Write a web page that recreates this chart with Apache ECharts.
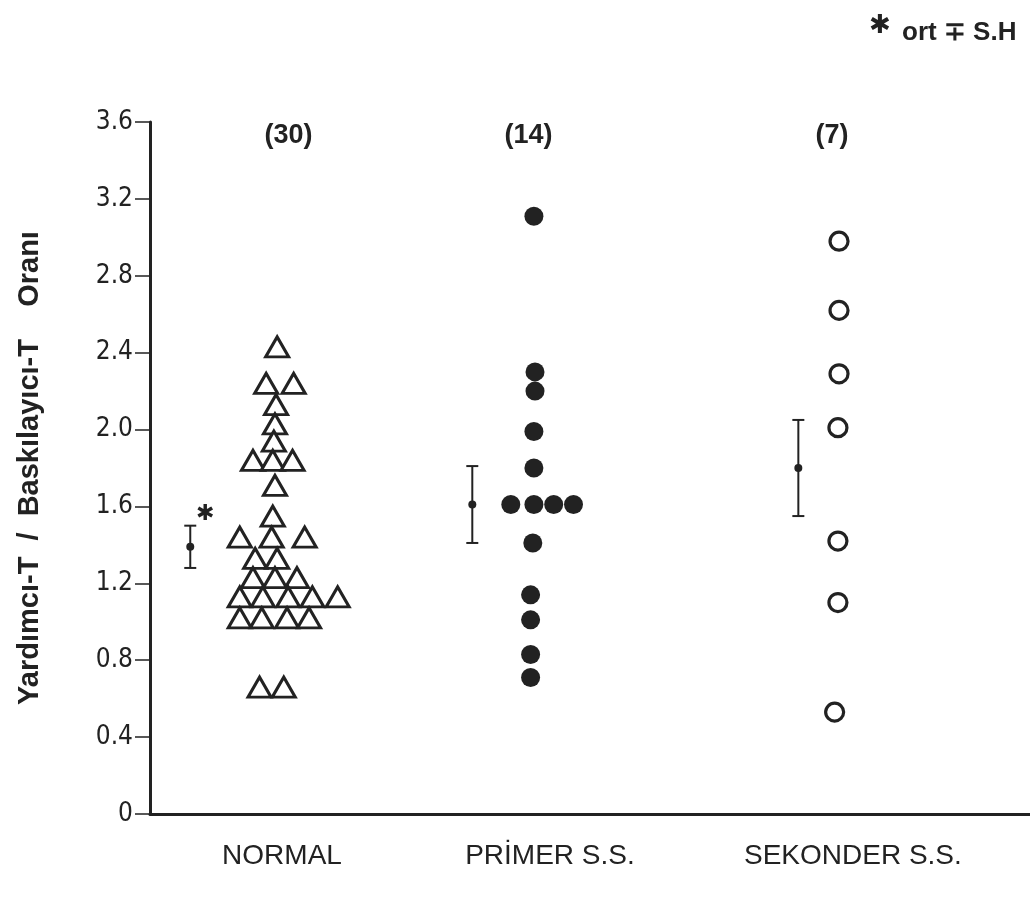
<!DOCTYPE html>
<html><head><meta charset="utf-8">
<script src="https://cdn.jsdelivr.net/npm/echarts@6/dist/echarts.min.js"></script>
<style>html,body{margin:0;padding:0;background:#fff}#c{width:1030px;height:902px}</style>
</head><body><div id="c"></div>
<script>
// ---- data ----
const groupNames = ['NORMAL', 'PRİMER S.S.', 'SEKONDER S.S.'];
const groupCounts = ['(30)', '(14)', '(7)'];
const yAxisTitle = 'Yardımcı-T  /  Baskılayıcı-T    Oranı';
const legendNote = 'ort ∓ S.H';

// values and column offsets (in marker slots) for each dot
const normalValues = [2.43, 2.24, 2.24, 2.13, 2.03, 1.94, 1.84, 1.84, 1.84, 1.71, 1.55,
  1.44, 1.44, 1.44, 1.33, 1.33, 1.23, 1.23, 1.23,
  1.13, 1.13, 1.13, 1.13, 1.13, 1.02, 1.02, 1.02, 1.02, 0.66, 0.66];
const normalCols = [0.1, -0.4, 0.85, 0.05, 0, -0.05, -1, -0.1, 0.8, 0, -0.1,
  -1.6, -0.15, 1.35, -0.9, 0.1, -1, 0, 1,
  -1.6, -0.55, 0.6, 1.7, 2.85, -1.6, -0.6, 0.55, 1.55, -0.7, 0.4];
const primerValues = [3.11, 2.30, 2.20, 1.99, 1.80, 1.61, 1.61, 1.61, 1.61, 1.41, 1.14, 1.01, 0.83, 0.71];
const primerCols = [0, 0.05, 0.05, 0, 0, -1.05, 0, 0.9, 1.8, -0.05, -0.15, -0.15, -0.15, -0.15];
const sekonderValues = [2.98, 2.62, 2.29, 2.01, 1.42, 1.10, 0.53];
const sekonderCols = [0.05, 0.05, 0.05, 0, 0, 0, -0.15];

// mean ± SD per group
const errMean = [1.39, 1.61, 1.80];
const errLow = [1.28, 1.41, 1.55];
const errHigh = [1.50, 1.81, 2.05];
const errNote = ['✱', '', ''];

// ---- layout (x axis in marker-slot units) ----
const groupCenters = [5.68, 17.45, 31.27];
const errOffsets = [-3.85, -2.8, -1.8];
const countPos = [6.3, 17.2, 31.0];
const labelPos = [6.0, 18.18, 31.95];
const countY = 3.53;
const ink = '#222';
const narrow = "'Liberation Sans Narrow', 'DejaVu Sans Condensed', sans-serif";
const sans = "'Liberation Sans', Arial, sans-serif";

function pts(vals, cols, g) { return vals.map((v, i) => [groupCenters[g] + cols[i], v]); }

const chart = echarts.init(document.getElementById('c'));
chart.setOption({
  backgroundColor: '#fff',
  animation: false,
  grid: { left: 150, right: 0, top: 122, bottom: 88, containLabel: false, outerBoundsMode: 'none' },
  xAxis: {
    type: 'value', min: 0, max: 40,
    axisLine: { show: true, lineStyle: { color: ink, width: 3 } },
    axisTick: { show: false },
    splitLine: { show: false },
    axisLabel: {
      show: true, customValues: labelPos, margin: 28,
      fontFamily: sans, fontSize: 28, color: ink,
      formatter: v => { const i = labelPos.findIndex(p => Math.abs(p - v) < 1e-6); return i >= 0 ? groupNames[i] : ''; }
    }
  },
  yAxis: {
    type: 'value', min: 0, max: 3.6, interval: 0.4,
    name: yAxisTitle, nameLocation: 'middle', nameRotate: 90, nameGap: 106,
    nameTextStyle: { fontFamily: sans, fontSize: 29, fontWeight: 'bold', color: ink },
    axisLine: { show: true, lineStyle: { color: ink, width: 3 } },
    axisTick: { show: true, length: 15, lineStyle: { color: ink, width: 1.5 } },
    splitLine: { show: false },
    axisLabel: { margin: 17, fontFamily: narrow, fontSize: 26, color: ink,
      formatter: v => v === 0 ? '0' : v.toFixed(1) }
  },
  series: [
    { type: 'scatter', data: pts(normalValues, normalCols, 0), symbol: 'triangle', symbolSize: [23, 20],
      itemStyle: { color: '#fff', borderColor: ink, borderWidth: 3, opacity: 1 }, z: 3 },
    { type: 'scatter', data: pts(primerValues, primerCols, 1), symbol: 'circle', symbolSize: 19,
      itemStyle: { color: ink, opacity: 1 }, z: 3 },
    { type: 'scatter', data: pts(sekonderValues, sekonderCols, 2), symbol: 'circle', symbolSize: 18,
      itemStyle: { color: '#fff', borderColor: ink, borderWidth: 3.2, opacity: 1 }, z: 3 },
    { type: 'custom', z: 4,
      data: errMean.map((m, i) => [groupCenters[i] + errOffsets[i], m, errLow[i], errHigh[i], i]),
      renderItem: (params, api) => {
        const x = api.value(0);
        const pm = api.coord([x, api.value(1)]);
        const pl = api.coord([x, api.value(2)]);
        const ph = api.coord([x, api.value(3)]);
        const note = errNote[api.value(4)];
        const st = { stroke: ink, lineWidth: 2 };
        const ch = [
          { type: 'line', shape: { x1: pl[0], y1: pl[1], x2: ph[0], y2: ph[1] }, style: st },
          { type: 'line', shape: { x1: pl[0] - 6, y1: pl[1], x2: pl[0] + 6, y2: pl[1] }, style: st },
          { type: 'line', shape: { x1: ph[0] - 6, y1: ph[1], x2: ph[0] + 6, y2: ph[1] }, style: st },
          { type: 'circle', shape: { cx: pm[0], cy: pm[1], r: 4 }, style: { fill: ink } }
        ];
        if (note) ch.push({ type: 'text', x: ph[0] + 15, y: ph[1] - 11,
          style: { text: note, fill: ink, font: 'bold 22px DejaVu Sans', align: 'center', verticalAlign: 'middle' } });
        return { type: 'group', children: ch };
      }
    },
    { type: 'scatter', symbolSize: 0, silent: true, itemStyle: { opacity: 1 },
      data: countPos.map((x, i) => [x, countY, i]),
      label: { show: true, position: 'inside', fontFamily: sans, fontSize: 27, fontWeight: 'bold', color: ink,
        formatter: p => groupCounts[p.data[2]] } }
  ],
  graphic: [
    { type: 'text', x: 880, y: 26, style: { text: '✱', font: 'bold 26px DejaVu Sans', fill: ink, align: 'center', verticalAlign: 'middle' } },
    { type: 'text', x: 902, y: 33, style: { text: legendNote, font: "bold 26px 'Liberation Sans', sans-serif", fill: ink, align: 'left', verticalAlign: 'middle' } }
  ]
});
</script></body></html>
